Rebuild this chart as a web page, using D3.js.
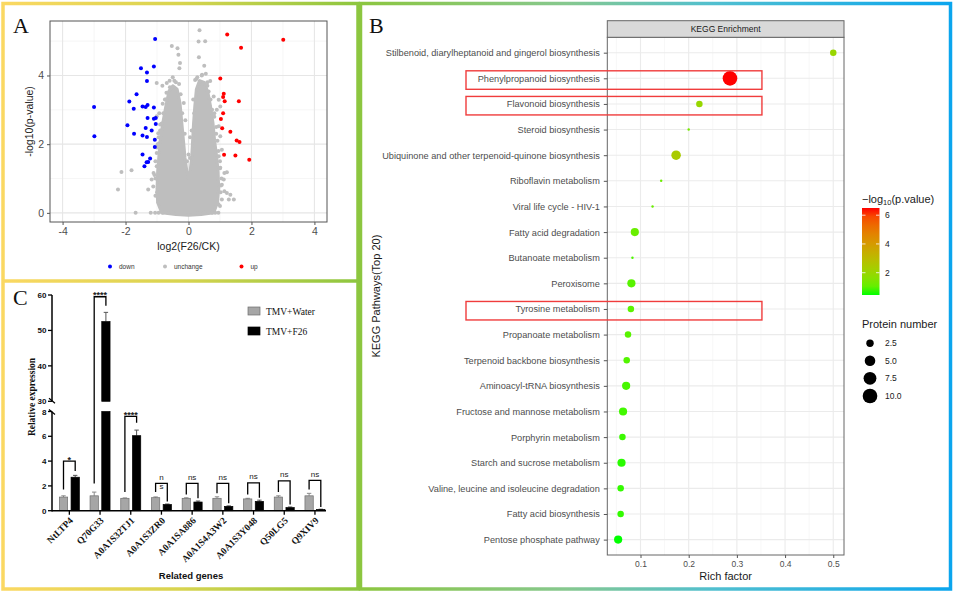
<!DOCTYPE html>
<html><head><meta charset="utf-8">
<script src="https://cdn.jsdelivr.net/npm/d3@7"></script>
<style>body{margin:0;background:#fff}svg{display:block}</style>
</head><body>
<svg id="fig" width="954" height="593"></svg>
<script>
// ================= DATA =================
// Panel A : volcano plot  [log2FC, -log10(p)]
const downPoints = [[-1.06,5.06],[-1.51,4.21],[-1.32,4.09],[-1.10,4.26],[-1.32,3.84],[-1.65,3.45],[-1.88,3.24],[-1.74,3.03],[-1.46,3.10],[-1.36,3.08],[-1.30,3.14],[-1.10,3.07],[-1.30,2.76],[-1.10,2.74],[-1.04,2.76],[-1.04,2.59],[-1.94,2.55],[-1.36,2.47],[-1.17,2.40],[-1.73,2.30],[-1.46,2.25],[-1.32,2.21],[-1.07,2.13],[-1.07,1.92],[-1.46,1.70],[-1.22,1.58],[-1.28,1.48],[-1.33,1.47],[-1.40,1.36],[-3.00,3.08],[-2.99,2.23]];
const upPoints = [[1.23,5.19],[3.01,5.04],[1.67,4.81],[1.01,3.91],[1.12,3.47],[1.10,3.37],[1.15,3.25],[1.60,3.25],[1.10,2.90],[1.03,2.73],[1.07,2.46],[1.33,2.36],[1.53,2.11],[1.62,2.06],[1.13,1.69],[1.49,1.67],[1.93,1.55]];
const unchangePoints = [[0.35,5.32],[0.32,4.99],[0.53,5.0],[-0.53,4.86],[-0.35,4.79],[-0.32,4.6],[0.33,4.53],[-0.27,4.36],[-0.29,4.21],[0.5,4.28],[0.43,4.02],[0.55,4.05],[0.69,3.84],[-1.01,3.78],[-0.83,3.7],[-0.69,3.78],[-0.59,3.66],[0.21,3.87],[0.37,3.66],[0.64,3.53],[0.8,3.39],[0.96,3.29],[-0.82,3.18],[-0.93,2.9],[-1.01,2.81],[-0.9,2.57],[-0.96,2.32],[-0.93,2.03],[-1.01,1.74],[-0.9,1.45],[-1.11,1.16],[-1.17,0.97],[-2.13,1.19],[-1.81,1.24],[-2.24,0.68],[-1.28,0.68],[-1.12,0.77],[-0.96,0.97],[-1.01,1.36],[-1.68,0],[-1.2,0],[-1.06,0],[-0.95,0],[-0.82,0],[-0.64,0],[-0.5,0],[0.3,0],[0.5,0],[0.62,0],[0.75,0],[0.85,0],[0.95,0],[0.9,3.0],[1.01,3.1],[0.96,2.52],[1.01,2.23],[1.06,1.84],[0.96,1.65],[1.01,1.31],[1.14,1.16],[1.22,1.18],[1.12,0.97],[1.06,0.82],[1.22,0.58],[1.06,0.39],[1.28,0.39],[1.44,0.39],[1.14,0.63],[1.33,0.53],[-0.75,3.3],[-0.7,3.5],[-0.45,3.85],[-0.3,3.75],[-0.15,3.2],[-0.1,2.7],[0.05,2.2],[0.0,1.7],[0.15,3.3],[0.25,3.9],[0.6,3.7],[0.7,3.3],[0.82,2.9],[0.88,2.5],[0.92,2.1],[0.95,1.8],[1.0,1.5],[-0.85,2.6],[-0.95,2.2],[-1.0,1.9],[-1.05,1.5],[-1.05,1.0],[-1.0,0.6],[-0.95,0.3],[1.05,1.0],[1.02,0.6],[0.95,0.25],[-1.05,0.5],[-1.08,1.1],[-0.98,2.0],[-0.9,2.4],[-0.8,2.9],[-0.72,3.3],[-0.6,3.85],[-0.5,3.95],[-0.4,3.8],[-0.25,3.45],[0.28,3.95],[0.42,4.0],[0.6,3.8],[0.75,3.0],[0.82,2.8],[0.88,2.3],[1.0,1.3],[1.03,0.8],[1.0,0.2],[-0.12,2.3],[0.1,2.4],[-0.05,1.5],[0.05,1.6],[-0.2,2.9],[0.18,2.9]];
// outline of the dense (overplotted) unchanged-protein cloud
const unchangeCore = [[-0.85,0.0],[-0.98,0.3],[-1.0,0.7],[-0.98,1.2],[-0.94,1.65],[-0.9,2.1],[-0.82,2.6],[-0.72,3.1],[-0.62,3.55],[-0.5,3.7],[-0.36,3.6],[-0.27,3.2],[-0.21,2.6],[-0.16,2.1],[-0.11,1.6],[-0.05,1.2],[0.0,1.0],[0.05,1.2],[0.1,1.6],[0.13,2.1],[0.16,2.6],[0.2,3.1],[0.25,3.6],[0.35,3.85],[0.5,3.8],[0.62,3.5],[0.7,3.1],[0.78,2.6],[0.83,2.1],[0.9,1.6],[0.94,1.2],[0.96,0.7],[0.92,0.3],[0.8,0.0],[0.4,-0.05],[0,-0.07],[-0.4,-0.05]];
const volcanoXTicks = [-4,-2,0,2,4];
const volcanoYTicks = [0,2,4];
const volcanoGroups = ["down","unchange","up"];

// Panel B : KEGG enrichment
const pathways = ["Stilbenoid, diarylheptanoid and gingerol biosynthesis","Phenylpropanoid biosynthesis","Flavonoid biosynthesis","Steroid biosynthesis","Ubiquinone and other terpenoid-quinone biosynthesis","Riboflavin metabolism","Viral life cycle - HIV-1","Fatty acid degradation","Butanoate metabolism","Peroxisome","Tyrosine metabolism","Propanoate metabolism","Terpenoid backbone biosynthesis","Aminoacyl-tRNA biosynthesis","Fructose and mannose metabolism","Porphyrin metabolism","Starch and sucrose metabolism","Valine, leucine and isoleucine degradation","Fatty acid biosynthesis","Pentose phosphate pathway"];
const richFactor = [0.5,0.2857,0.2222,0.2,0.1739,0.1429,0.125,0.0882,0.0833,0.0811,0.08,0.0741,0.0714,0.0702,0.0638,0.0625,0.0606,0.0588,0.0588,0.0536];
const proteinNumber = [2,10,2,1,4,1,1,3,1,3,2,2,2,3,3,2,3,2,2,3];
const negLog10P = [2.0,6.5,1.95,1.3,2.4,1.15,1.1,1.1,0.8,0.9,0.95,0.9,0.85,0.75,0.7,0.65,0.55,0.6,0.6,0.45];
const highlighted = ["Phenylpropanoid biosynthesis","Flavonoid biosynthesis","Tyrosine metabolism"];
const richTicks = [0.1,0.2,0.3,0.4,0.5];
const colorTicks = [2,4,6];
const sizeLegend = [2.5,5.0,7.5,10.0];

// Panel C : qRT-PCR
const genes = ["NtLTP4","Q70G33","A0A1S32TJ1","A0A1S3ZR0","A0A1SA886","A0A1S4A3W2","A0A1S3Y048","Q50LG5","Q9XIV9"];
const waterMean = [1.1,1.2,1.0,1.05,1.0,1.0,0.95,1.1,1.2];
const waterErr = [0.1,0.3,0.03,0.06,0.04,0.12,0.05,0.1,0.2];
const f26Mean = [2.7,52.5,6.05,0.5,0.7,0.35,0.75,0.25,0.1];
const f26Err = [0.15,2.6,0.45,0.04,0.08,0.04,0.1,0.05,0.02];
const sigLabel = ["*","****","****","n s","ns","ns","ns","ns","ns"];
const sigTop = [4.0,59.5,7.6,2.2,2.2,2.2,2.25,2.4,2.45];
const sigLeftEnd = [1.7,2.2,1.5,1.5,1.3,1.4,1.3,1.5,1.7];
const sigRightEnd = [3.2,57,7.1,0.75,1.0,0.6,1.05,0.5,0.3];
const lowTicks = [0,2,4,6,8];
const highTicks = [30,40,50,60];
const seriesNames = ["TMV+Water","TMV+F26"];

// ================= DRAW =================
const svg = d3.select("#fig");
const SANS = "'Liberation Sans', Arial, sans-serif";
const SERIF = "'Liberation Serif', 'Times New Roman', serif";
const defs = svg.append("defs");

// ---------- frames ----------
const gL = defs.append("linearGradient").attr("id","gLeft").attr("gradientUnits","userSpaceOnUse")
  .attr("x1",0).attr("y1",0).attr("x2",360).attr("y2",0);
gL.append("stop").attr("offset",0).attr("stop-color","#fbd862");
gL.append("stop").attr("offset",0.5).attr("stop-color","#d8d44f");
gL.append("stop").attr("offset",1).attr("stop-color","#8cc63f");
const gR = defs.append("linearGradient").attr("id","gRight").attr("gradientUnits","userSpaceOnUse")
  .attr("x1",358).attr("y1",0).attr("x2",954).attr("y2",0);
gR.append("stop").attr("offset",0).attr("stop-color","#8cc63f");
gR.append("stop").attr("offset",0.35).attr("stop-color","#86c88f");
gR.append("stop").attr("offset",0.6).attr("stop-color","#50bfd0");
gR.append("stop").attr("offset",1).attr("stop-color","#0aa5ee");

svg.append("rect").attr("x",3).attr("y",3.5).attr("width",355).attr("height",585.5)
  .attr("fill","none").attr("stroke","url(#gLeft)").attr("stroke-width",3.5);
svg.append("line").attr("x1",3).attr("x2",358).attr("y1",281).attr("y2",281)
  .attr("stroke","url(#gLeft)").attr("stroke-width",3.5);
svg.append("rect").attr("x",360.5).attr("y",3.5).attr("width",590).attr("height",585.5)
  .attr("fill","none").attr("stroke","url(#gRight)").attr("stroke-width",3.5);

// panel letters
[["A",13,33],["B",369,33],["C",13,305]].forEach(([t,x,y])=>{
  svg.append("text").attr("x",x).attr("y",y).text(t)
    .attr("font-family",SERIF).attr("font-size",22).attr("fill","#111");
});

// ================= Panel A =================
{
  const L=50,R=327,T=21,B=222;
  const x = d3.scaleLinear().domain([-4.4,4.4]).range([L,R]);
  const y = d3.scaleLinear().domain([-0.266,5.586]).range([B,T]);
  const g = svg.append("g");
  [-3,-1,1,3].forEach(v=>g.append("line").attr("x1",x(v)).attr("x2",x(v)).attr("y1",T).attr("y2",B).attr("stroke","#f0f0f0").attr("stroke-width",0.6));
  [1,3,5].forEach(v=>g.append("line").attr("y1",y(v)).attr("y2",y(v)).attr("x1",L).attr("x2",R).attr("stroke","#f0f0f0").attr("stroke-width",0.6));
  volcanoXTicks.forEach(v=>g.append("line").attr("x1",x(v)).attr("x2",x(v)).attr("y1",T).attr("y2",B).attr("stroke","#e6e6e6").attr("stroke-width",1.1));
  volcanoYTicks.forEach(v=>g.append("line").attr("y1",y(v)).attr("y2",y(v)).attr("x1",L).attr("x2",R).attr("stroke","#e6e6e6").attr("stroke-width",1.1));

  const line = d3.line().x(d=>x(d[0])).y(d=>y(d[1])).curve(d3.curveLinearClosed);
  g.append("path").attr("d",line(unchangeCore)).attr("fill","#bebebe").attr("stroke","#bebebe").attr("stroke-width",3).attr("stroke-linejoin","round");
  const dot=(arr,col)=>g.selectAll(null).data(arr).enter().append("circle")
    .attr("cx",d=>x(d[0])).attr("cy",d=>y(d[1])).attr("r",2).attr("fill",col);
  dot(unchangePoints,"#bebebe");
  dot(downPoints,"#0000ff");
  dot(upPoints,"#ff0000");

  g.append("rect").attr("x",L).attr("y",T).attr("width",R-L).attr("height",B-T)
    .attr("fill","none").attr("stroke","#555").attr("stroke-width",1);

  const xa = g.append("g").attr("transform",`translate(0,${B})`)
    .call(d3.axisBottom(x).tickValues(volcanoXTicks).tickSize(3).tickPadding(3).tickFormat(d=>String(d)));
  const ya = g.append("g").attr("transform",`translate(${L},0)`)
    .call(d3.axisLeft(y).tickValues(volcanoYTicks).tickSize(3).tickPadding(3).tickFormat(d=>String(d)));
  [xa,ya].forEach(a=>{a.select(".domain").remove();
    a.selectAll("line").attr("stroke","#555");
    a.selectAll("text").attr("font-family",SANS).attr("font-size",10.5).attr("fill","#4d4d4d");});

  g.append("text").attr("x",(L+R)/2).attr("y",250).attr("text-anchor","middle")
    .attr("font-family",SANS).attr("font-size",10.5).attr("fill","#222").text("log2(F26/CK)");
  g.append("text").attr("transform",`translate(33,${(T+B)/2}) rotate(-90)`).attr("text-anchor","middle")
    .attr("font-family",SANS).attr("font-size",10.5).attr("fill","#222").text("-log10(p-value)");

  const lx=[110,165,241.5], cols=["#0000ff","#bebebe","#ff0000"];
  volcanoGroups.forEach((n,i)=>{
    g.append("circle").attr("cx",lx[i]).attr("cy",266.5).attr("r",2).attr("fill",cols[i]);
    g.append("text").attr("x",lx[i]+9).attr("y",268.8).attr("font-family",SANS).attr("font-size",6.5).attr("fill","#333").text(n);
  });
}

// ================= Panel B =================
{
  const L=607.3,R=844,T=37.3,B=555;
  const x = d3.scaleLinear().domain([0.0311,0.5223]).range([L,R]);
  const y = d3.scalePoint().domain(pathways).range([T,B]).padding(0.6);
  const nMin=d3.min(proteinNumber), nMax=d3.max(proteinNumber);
  const rLin = d3.scaleLinear().domain([0,1]).range([1.22,7.32]);
  const r = n => rLin(Math.sqrt(Math.max(0,(n-nMin)/(nMax-nMin))));
  const pExt = [d3.min(negLog10P), d3.max(negLog10P)];
  const color = d3.scaleLinear().domain(pExt).range(["#00ff00","#ff0000"]).interpolate(d3.interpolateLab);
  const g = svg.append("g");

  const minor = [0.05,0.15,0.25,0.35,0.45];
  minor.forEach(v=>g.append("line").attr("x1",x(v)).attr("x2",x(v)).attr("y1",T).attr("y2",B).attr("stroke","#f2f2f2").attr("stroke-width",0.6));
  richTicks.forEach(v=>g.append("line").attr("x1",x(v)).attr("x2",x(v)).attr("y1",T).attr("y2",B).attr("stroke","#ebebeb").attr("stroke-width",1.1));
  pathways.forEach(p=>g.append("line").attr("y1",y(p)).attr("y2",y(p)).attr("x1",L).attr("x2",R).attr("stroke","#ebebeb").attr("stroke-width",1.1));

  g.selectAll(null).data(pathways).enter().append("circle")
    .attr("cx",(d,i)=>x(richFactor[i])).attr("cy",d=>y(d))
    .attr("r",(d,i)=>r(proteinNumber[i])).attr("fill",(d,i)=>color(negLog10P[i]));

  g.append("rect").attr("x",L).attr("y",T).attr("width",R-L).attr("height",B-T)
    .attr("fill","none").attr("stroke","#666").attr("stroke-width",1);
  g.append("rect").attr("x",L).attr("y",20.7).attr("width",R-L).attr("height",T-20.7)
    .attr("fill","#d9d9d9").attr("stroke","#666").attr("stroke-width",1);
  g.append("text").attr("x",(L+R)/2).attr("y",32).attr("text-anchor","middle")
    .attr("font-family",SANS).attr("font-size",8.5).attr("fill","#1a1a1a").text("KEGG Enrichment");

  const ya = g.append("g").attr("transform",`translate(${L},0)`).call(d3.axisLeft(y).tickSize(3.5).tickPadding(4));
  const xa = g.append("g").attr("transform",`translate(0,${B})`).call(d3.axisBottom(x).tickValues(richTicks).tickSize(3).tickPadding(3).tickFormat(d3.format(".1f")));
  [xa,ya].forEach(a=>{a.select(".domain").remove(); a.selectAll("line").attr("stroke","#555");
    a.selectAll("text").attr("font-family",SANS).attr("fill","#4d4d4d");});
  ya.selectAll("text").attr("font-size",9.2);
  xa.selectAll("text").attr("font-size",8.5);

  g.append("text").attr("x",(L+R)/2).attr("y",579.5).attr("text-anchor","middle")
    .attr("font-family",SANS).attr("font-size",11).attr("fill","#1a1a1a").text("Rich factor");
  g.append("text").attr("transform",`translate(380,${(T+B)/2}) rotate(-90)`).attr("text-anchor","middle")
    .attr("font-family",SANS).attr("font-size",11).attr("fill","#1a1a1a").text("KEGG Pathways(Top 20)");

  highlighted.forEach(p=>{
    g.append("rect").attr("x",466).attr("y",y(p)-7.5).attr("width",x(0.352)-466).attr("height",18.5)
      .attr("fill","none").attr("stroke","#f03c3c").attr("stroke-width",1.4);
  });

  const cbT=208, cbB=295, cbX=862, cbW=17.5;
  const cy = d3.scaleLinear().domain(pExt).range([cbB,cbT]);
  const cg = defs.append("linearGradient").attr("id","cbar").attr("x1",0).attr("y1",1).attr("x2",0).attr("y2",0);
  d3.range(0,1.0001,0.1).forEach(t=>cg.append("stop").attr("offset",t).attr("stop-color",color(pExt[0]+t*(pExt[1]-pExt[0]))));
  g.append("rect").attr("x",cbX).attr("y",cbT).attr("width",cbW).attr("height",cbB-cbT).attr("fill","url(#cbar)");
  colorTicks.forEach(v=>{
    g.append("line").attr("x1",cbX).attr("x2",cbX+3.5).attr("y1",cy(v)).attr("y2",cy(v)).attr("stroke","#fff").attr("stroke-width",0.8);
    g.append("line").attr("x1",cbX+cbW-3.5).attr("x2",cbX+cbW).attr("y1",cy(v)).attr("y2",cy(v)).attr("stroke","#fff").attr("stroke-width",0.8);
    g.append("text").attr("x",885).attr("y",cy(v)+3).attr("font-family",SANS).attr("font-size",8.5).attr("fill","#1a1a1a").text(v);
  });
  const tt = g.append("text").attr("x",cbX).attr("y",202.5).attr("font-family",SANS).attr("font-size",11).attr("fill","#1a1a1a");
  tt.append("tspan").text("\u2212log");
  tt.append("tspan").attr("font-size",7.5).attr("dy",2.5).text("10");
  tt.append("tspan").attr("dy",-2.5).text("(p.value)");

  g.append("text").attr("x",cbX).attr("y",327.5).attr("font-family",SANS).attr("font-size",11).attr("fill","#1a1a1a").text("Protein number");
  const sy=[343.3,360.7,378.3,396];
  sizeLegend.forEach((v,i)=>{
    g.append("circle").attr("cx",870).attr("cy",sy[i]).attr("r",r(v)).attr("fill","#000");
    g.append("text").attr("x",885).attr("y",sy[i]+3).attr("font-family",SANS).attr("font-size",8.5).attr("fill","#1a1a1a").text(v.toFixed(1));
  });
}

// ================= Panel C =================
{
  const x = d3.scaleBand().domain(genes).range([54,330.3]);
  const yLow = d3.scaleLinear().domain([0,8]).range([510.7,411.5]);
  const yHigh = d3.scaleLinear().domain([30,60]).range([401.3,295]);
  const Y = v => v<=8 ? yLow(v) : yHigh(Math.max(v,30));
  const g = svg.append("g");
  const bw = 8.3, off = 1.7;
  const cx = gname => x(gname)+x.bandwidth()/2;

  function bar(xl, v, fill, stroke){
    const segs = v<=8 ? [[yLow(v),yLow(0)]] : [[yLow(8),yLow(0)],[yHigh(v),yHigh(30)]];
    segs.forEach(([a,b])=>g.append("rect").attr("x",xl).attr("y",a).attr("width",bw).attr("height",b-a)
      .attr("fill",fill).attr("stroke",stroke).attr("stroke-width",0.7));
  }
  function err(xc, v, e, col){
    g.append("line").attr("x1",xc).attr("x2",xc).attr("y1",Y(v)).attr("y2",Y(v+e)).attr("stroke",col).attr("stroke-width",1);
    g.append("line").attr("x1",xc-2.2).attr("x2",xc+2.2).attr("y1",Y(v+e)).attr("y2",Y(v+e)).attr("stroke",col).attr("stroke-width",1);
  }
  genes.forEach((gn,i)=>{
    const c = cx(gn);
    err(c-off-bw/2, waterMean[i], waterErr[i], "#8a8a8a");
    err(c+off+bw/2, f26Mean[i], f26Err[i], "#555");
    bar(c-off-bw, waterMean[i], "#a6a6a6", "#6e6e6e");
    bar(c+off, f26Mean[i], "#000", "#000");
    const xl=c-off-bw/2, xr=c+off+bw/2;
    g.append("path").attr("d",`M${xl},${Y(sigLeftEnd[i])}V${Y(sigTop[i])}H${xr}V${Y(sigRightEnd[i])}`)
      .attr("fill","none").attr("stroke","#000").attr("stroke-width",1.3);
    const lab = sigLabel[i];
    const isStar = lab.indexOf("*")>=0;
    if (lab.indexOf(" ")>=0){
      const parts = lab.split(" ");
      g.append("text").attr("x",(xl+xr)/2).attr("y",Y(sigTop[i])-3.5).attr("text-anchor","middle").attr("font-family",SANS).attr("font-size",8).attr("fill","#222").text(parts[0]);
      g.append("text").attr("x",(xl+xr)/2).attr("y",Y(sigTop[i])+5.5).attr("text-anchor","middle").attr("font-family",SANS).attr("font-size",8).attr("fill","#222").text(parts[1]);
    } else {
      g.append("text").attr("x",(xl+xr)/2).attr("y",Y(sigTop[i])+(isStar?1.5:-3.5)).attr("text-anchor","middle")
        .attr("font-family",SANS).attr("font-size",isStar?9:8).attr("font-weight",isStar?"bold":"normal").attr("fill","#222").text(lab);
    }
  });

  const ax = 52;
  g.append("line").attr("x1",ax).attr("x2",ax).attr("y1",yLow(0)+0.7).attr("y2",yLow(8)).attr("stroke","#000").attr("stroke-width",1.5);
  g.append("line").attr("x1",ax).attr("x2",ax).attr("y1",yHigh(30)).attr("y2",yHigh(60)).attr("stroke","#000").attr("stroke-width",1.5);
  g.append("line").attr("x1",ax-3).attr("x2",ax+3).attr("y1",yHigh(30)-3).attr("y2",yHigh(30)+2).attr("stroke","#000").attr("stroke-width",1.2);
  g.append("line").attr("x1",ax-3).attr("x2",ax+3).attr("y1",yLow(8)-2).attr("y2",yLow(8)+3).attr("stroke","#000").attr("stroke-width",1.2);
  const tick=(v,yy)=>{
    g.append("line").attr("x1",ax-4).attr("x2",ax).attr("y1",yy).attr("y2",yy).attr("stroke","#000").attr("stroke-width",1.3);
    g.append("text").attr("x",ax-5.5).attr("y",yy+3).attr("text-anchor","end").attr("font-family",SANS).attr("font-weight","bold").attr("font-size",8).attr("fill","#111").text(v);
  };
  lowTicks.forEach(v=>tick(v,yLow(v)));
  highTicks.forEach(v=>tick(v,yHigh(v)));
  g.append("line").attr("x1",ax).attr("x2",326).attr("y1",yLow(0)).attr("y2",yLow(0)).attr("stroke","#000").attr("stroke-width",1.5);
  genes.forEach(gn=>{
    const c=cx(gn);
    g.append("line").attr("x1",c).attr("x2",c).attr("y1",yLow(0)).attr("y2",yLow(0)+4).attr("stroke","#000").attr("stroke-width",1.3);
    g.append("text").attr("transform",`translate(${c+2},${yLow(0)+8}) rotate(-45)`).attr("text-anchor","end").attr("dy","0.35em")
      .attr("font-family",SERIF).attr("font-weight","bold").attr("font-size",9.5).attr("fill","#111").text(gn);
  });
  g.append("text").attr("x",191).attr("y",579).attr("text-anchor","middle").attr("font-family",SANS).attr("font-weight","bold").attr("font-size",9.5).attr("fill","#111").text("Related genes");
  g.append("text").attr("transform",`translate(34.5,397) rotate(-90)`).attr("text-anchor","middle").attr("font-family",SERIF).attr("font-weight","bold").attr("font-size",9.5).attr("fill","#111").text("Relative expression");

  const lf=["#a6a6a6","#000"], ls=["#6e6e6e","#000"], ly=[307,327];
  seriesNames.forEach((n,i)=>{
    g.append("rect").attr("x",248).attr("y",ly[i]).attr("width",12).attr("height",8).attr("fill",lf[i]).attr("stroke",ls[i]).attr("stroke-width",0.7);
    g.append("text").attr("x",266).attr("y",ly[i]+7.5).attr("font-family",SERIF).attr("font-size",9.5).attr("fill","#111").text(n);
  });
}
</script>
</body></html>
